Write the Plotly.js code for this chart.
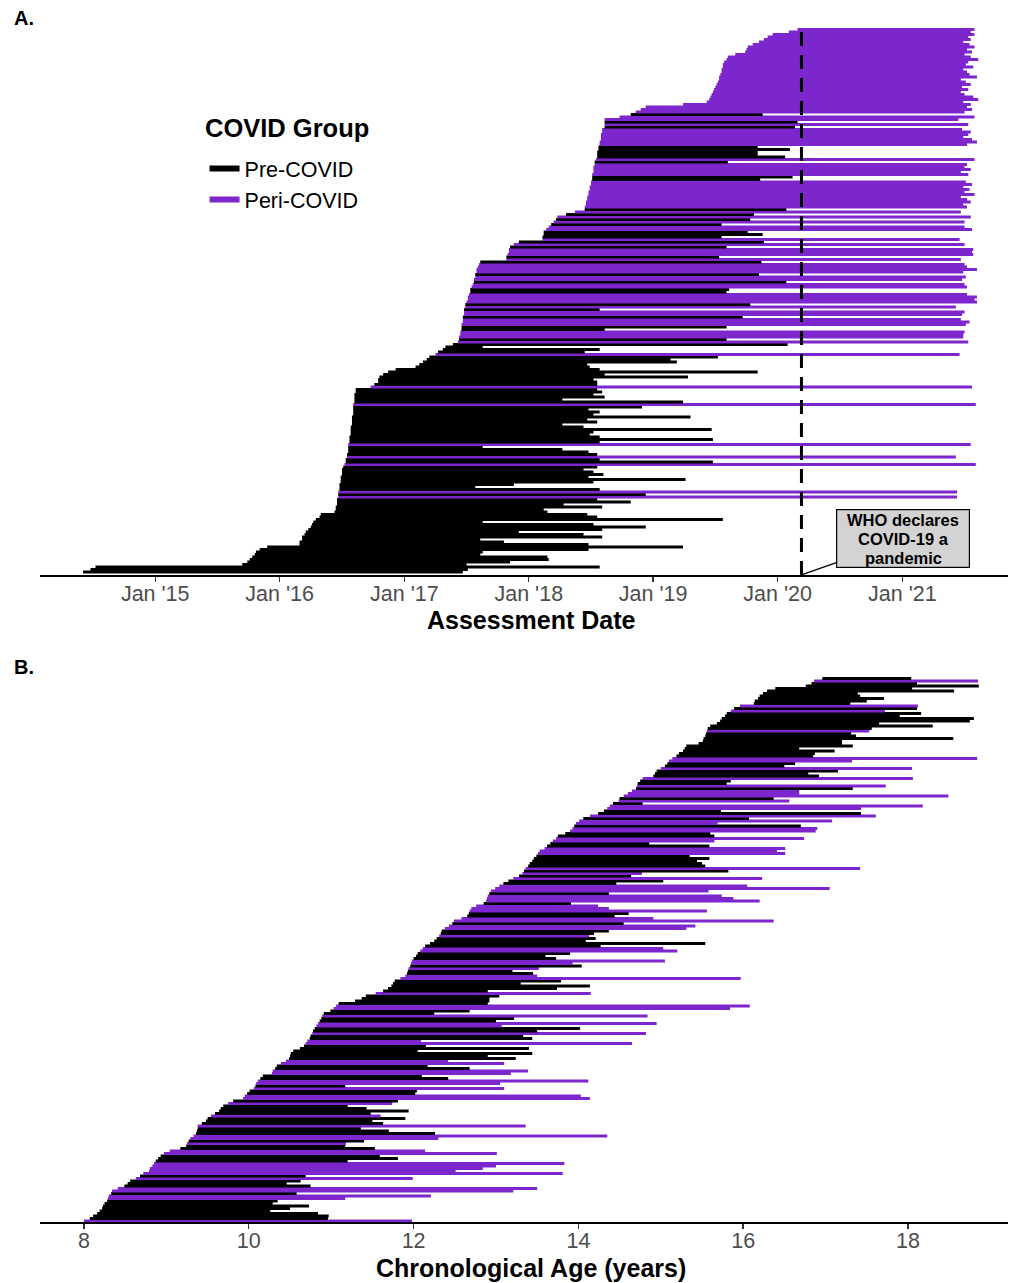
<!DOCTYPE html>
<html>
<head>
<meta charset="utf-8">
<script src="https://cdn.plot.ly/plotly-3.0.1.min.js"></script>
<style>html,body{margin:0;padding:0;background:#fff;}#chart{width:1011px;height:1283px;}</style>
</head>
<body>
<div id="chart"></div>
<script>
// ---------- DATA ----------
// Panel A: assessment dates (decimal years), one row per participant, sorted by baseline
const aStart = [
2014.42,2014.48,2014.52,2015.70,2015.74,2015.76,2015.78,2015.80,2015.81,2015.84,
2015.90,2016.16,2016.16,2016.18,2016.18,2016.20,2016.21,2016.23,2016.25,2016.26,
2016.27,2016.29,2016.32,2016.33,2016.44,2016.45,2016.45,2016.46,2016.46,2016.46,
2016.47,2016.47,2016.47,2016.48,2016.48,2016.48,2016.49,2016.49,2016.49,2016.50,
2016.50,2016.50,2016.51,2016.52,2016.53,2016.53,2016.54,2016.54,2016.55,2016.55,
2016.55,2016.55,2016.56,2016.56,2016.56,2016.57,2016.57,2016.57,2016.57,2016.58,
2016.58,2016.58,2016.58,2016.59,2016.59,2016.59,2016.59,2016.59,2016.60,2016.60,
2016.60,2016.60,2016.61,2016.61,2016.73,2016.76,2016.79,2016.79,2016.80,2016.83,
2016.87,2016.93,2017.09,2017.12,2017.15,2017.18,2017.20,2017.25,2017.27,2017.31,
2017.33,2017.39,2017.43,2017.44,2017.44,2017.45,2017.45,2017.46,2017.46,2017.46,
2017.47,2017.47,2017.47,2017.48,2017.48,2017.48,2017.49,2017.49,2017.50,2017.51,
2017.51,2017.52,2017.53,2017.53,2017.54,2017.55,2017.56,2017.56,2017.57,2017.57,
2017.58,2017.58,2017.59,2017.60,2017.61,2017.82,2017.82,2017.83,2017.84,2017.84,
2017.85,2017.88,2017.92,2018.11,2018.11,2018.12,2018.12,2018.14,2018.16,2018.18,
2018.20,2018.22,2018.23,2018.30,2018.37,2018.45,2018.45,2018.46,2018.46,2018.47,
2018.47,2018.48,2018.48,2018.49,2018.49,2018.50,2018.50,2018.51,2018.51,2018.51,
2018.52,2018.52,2018.52,2018.53,2018.53,2018.54,2018.55,2018.55,2018.55,2018.56,
2018.56,2018.57,2018.57,2018.58,2018.58,2018.58,2018.59,2018.59,2018.61,2018.61,
2018.61,2018.61,2018.73,2018.82,2018.86,2018.90,2018.94,2019.24,2019.43,2019.45,
2019.46,2019.47,2019.48,2019.49,2019.50,2019.51,2019.52,2019.53,2019.53,2019.54,
2019.55,2019.55,2019.56,2019.56,2019.57,2019.59,2019.60,2019.66,2019.74,2019.75,
2019.76,2019.80,2019.85,2019.89,2019.92,2019.96,2020.09,2020.16];
const aEnd = [
2017.47,2017.51,2018.57,2017.50,2017.85,2018.16,2018.15,2017.61,2017.63,2018.48,
2019.24,2018.48,2017.80,2017.61,2018.59,2018.44,2017.92,2018.59,2018.94,2018.52,
2017.63,2019.56,2018.55,2018.47,2018.15,2018.12,2018.59,2018.28,2018.82,2018.55,
2021.44,2018.94,2021.44,2018.57,2017.57,2017.88,2018.52,2019.26,2018.48,2018.60,
2018.52,2018.44,2018.55,2021.59,2019.48,2018.57,2021.43,2018.55,2018.48,2018.27,
2017.63,2021.55,2018.57,2019.48,2018.57,2018.49,2018.52,2019.47,2018.44,2018.27,
2018.55,2018.47,2019.30,2018.52,2018.57,2018.48,2018.91,2021.59,2019.24,2018.27,
2018.61,2018.52,2018.59,2018.55,2021.56,2018.55,2018.55,2018.52,2019.28,2018.61,
2019.84,2018.57,2018.49,2018.47,2019.19,2019.14,2019.52,2021.46,2018.45,2018.57,
2017.63,2020.08,2021.53,2019.59,2021.49,2021.49,2021.50,2018.61,2019.59,2021.51,
2021.54,2021.47,2019.72,2021.48,2021.50,2018.57,2021.43,2019.78,2021.60,2021.58,
2021.60,2021.52,2019.59,2019.61,2021.52,2021.50,2020.07,2021.48,2021.51,2019.85,
2021.49,2021.60,2021.52,2021.50,2019.87,2021.47,2019.53,2021.57,2021.56,2021.57,
2019.59,2021.50,2019.89,2021.46,2019.55,2019.88,2019.76,2021.56,2021.50,2019.55,
2021.50,2019.78,2021.55,2019.81,2021.47,2020.07,2021.52,2021.49,2021.55,2021.52,
2021.47,2021.58,2021.50,2021.54,2021.49,2021.56,2021.51,2019.86,2020.12,2021.53,
2021.47,2021.55,2021.50,2021.52,2019.60,2021.58,2020.06,2019.84,2019.84,2020.10,
2019.84,2021.52,2021.60,2021.56,2021.49,2021.53,2021.55,2021.48,2020.14,2021.53,
2020.16,2021.45,2021.58,2019.88,2021.50,2021.56,2021.52,2021.55,2021.49,2021.61,
2021.57,2021.50,2021.47,2021.53,2021.48,2021.55,2021.51,2021.47,2021.60,2021.54,
2021.52,2021.49,2021.57,2021.51,2021.53,2021.61,2021.55,2021.50,2021.56,2021.52,
2021.58,2021.54,2021.49,2021.55,2021.53,2021.58,2021.55,2021.58];
// 0 = Pre-COVID, 1 = Peri-COVID
const aGroup = [
0,0,0,0,0,0,0,0,0,0, 0,0,0,0,0,0,0,0,0,0, 0,0,0,0,0,0,0,0,0,0,
1,0,1,0,0,0,0,0,0,0, 0,0,0,1,0,0,1,0,0,0, 0,1,0,0,0,0,0,0,0,0,
0,0,0,0,0,0,0,1,0,0, 0,0,0,0,1,0,0,0,0,0, 0,0,0,0,0,0,0,1,0,0,
0,0,1,0,1,1,1,0,0,1, 1,1,0,1,1,0,1,0,1,1, 1,1,0,0,1,1,0,1,1,0,
1,1,1,1,0,1,0,1,1,1, 0,1,0,1,0,0,0,1,1,0, 1,0,1,0,1,0,1,1,1,1,
1,1,1,1,1,1,1,0,0,1, 1,1,1,1,0,1,0,0,0,0, 0,1,1,1,1,1,1,1,0,1,
0,1,1,0,1,1,1,1,1,1, 1,1,1,1,1,1,1,1,1,1, 1,1,1,1,1,1,1,1,1,1,
1,1,1,1,1,1,1,1];

// Panel B: chronological age (years) at first and last assessment
const bStart = [
8.00,8.07,8.11,8.16,8.19,8.22,8.23,8.25,8.28,8.29,
8.30,8.33,8.34,8.41,8.49,8.53,8.56,8.63,8.68,8.72,
8.79,8.80,8.83,8.85,8.87,8.90,8.93,8.97,9.04,9.17,
9.24,9.25,9.27,9.29,9.33,9.36,9.37,9.38,9.38,9.43,
9.48,9.50,9.54,9.59,9.64,9.66,9.69,9.75,9.81,9.93,
9.95,9.98,10.01,10.06,10.08,10.09,10.11,10.14,10.17,10.28,
10.29,10.32,10.34,10.39,10.45,10.49,10.50,10.51,10.54,10.62,
10.67,10.69,10.71,10.74,10.75,10.77,10.78,10.80,10.82,10.84,
10.86,10.88,10.89,10.91,10.99,11.03,11.06,11.09,11.29,11.37,
11.42,11.54,11.63,11.69,11.73,11.75,11.77,11.84,11.90,11.92,
11.93,11.94,11.96,11.97,11.98,12.00,12.03,12.05,12.08,12.11,
12.14,12.20,12.25,12.28,12.31,12.33,12.34,12.38,12.43,12.47,
12.49,12.58,12.65,12.67,12.68,12.70,12.76,12.85,12.88,12.89,
12.90,12.92,12.94,12.99,13.04,13.09,13.15,13.21,13.28,13.32,
13.34,13.36,13.39,13.41,13.44,13.46,13.49,13.51,13.53,13.59,
13.62,13.66,13.69,13.73,13.75,13.84,13.90,13.93,13.95,13.97,
14.01,14.06,14.14,14.24,14.31,14.35,14.38,14.42,14.49,14.50,
14.55,14.60,14.65,14.70,14.71,14.72,14.75,14.78,14.91,14.93,
14.95,15.00,15.05,15.08,15.10,15.14,15.19,15.22,15.27,15.29,
15.31,15.46,15.51,15.52,15.54,15.55,15.56,15.57,15.60,15.68,
15.72,15.74,15.78,15.80,15.85,15.89,15.96,16.13,16.14,16.18,
16.20,16.24,16.29,16.39,16.76,16.83,16.86,16.96];
const bEnd = [
11.98,10.96,10.97,10.84,10.26,10.50,10.73,10.29,10.35,11.17,
12.21,10.58,13.21,13.50,10.75,10.46,10.63,11.99,10.69,13.81,
12.51,12.84,13.00,13.83,11.20,11.81,11.59,13.01,12.14,11.53,
11.17,11.18,11.40,12.30,14.35,12.26,11.70,11.36,13.36,11.63,
11.50,11.90,11.60,11.48,11.94,11.43,11.20,11.74,11.81,14.14,
14.03,12.02,12.04,13.10,11.17,13.05,14.12,12.42,12.10,13.18,
13.39,12.68,12.17,13.10,12.42,13.24,12.90,13.44,12.05,13.40,
12.15,14.65,12.09,13.44,13.33,14.82,13.50,14.02,13.07,14.95,
13.00,13.22,14.84,12.25,12.68,15.84,16.08,12.90,12.92,12.92,
13.04,14.15,12.90,13.74,14.14,13.30,13.79,15.97,13.50,13.45,
13.20,13.52,14.04,13.93,15.05,13.73,13.60,13.90,15.20,15.03,
14.27,15.54,14.09,14.21,14.13,14.19,14.37,15.31,15.42,14.55,
16.37,14.91,14.44,14.61,15.56,14.37,14.24,13.91,16.20,15.88,
15.74,14.37,15.58,17.05,16.05,14.46,15.03,16.23,14.64,14.77,
15.82,17.42,15.54,15.50,15.44,15.59,15.35,16.51,16.41,16.51,
15.59,14.86,15.65,16.74,15.65,15.60,16.88,16.90,16.70,15.69,
17.08,16.07,17.61,17.43,15.73,17.43,18.18,14.78,16.56,16.37,
18.49,16.68,16.68,17.33,17.73,15.80,15.85,18.06,16.92,16.79,
17.15,18.05,16.50,16.63,17.32,18.84,16.85,16.87,17.11,16.68,
17.33,17.20,17.20,18.55,17.37,17.31,17.53,17.56,18.30,17.65,
18.75,18.80,17.90,18.16,17.72,18.11,18.12,17.30,17.50,17.71,
17.42,17.39,18.56,18.05,18.86,18.11,18.85,18.04];
const bGroup = [
1,0,0,0,0,0,0,0,0,1, 1,0,1,1,0,0,0,1,0,1, 1,1,1,1,0,0,0,1,1,0,
0,1,0,1,1,0,0,0,1,0, 0,0,1,0,0,0,0,1,0,1, 1,0,0,1,0,1,1,0,0,1,
1,0,0,1,1,0,0,0,0,0, 0,1,1,0,0,1,0,0,1,1, 0,0,1,0,0,1,1,0,0,0,
0,1,0,0,0,0,0,1,1,0, 0,1,0,1,1,0,0,0,1,1, 0,0,0,0,1,0,0,1,1,0,
1,1,0,0,1,1,1,0,1,1, 1,0,1,1,1,0,0,1,0,1, 0,1,0,0,0,0,0,1,1,1,
0,0,1,1,0,0,1,1,0,1, 1,0,1,0,0,1,1,0,1,0, 1,1,1,0,1,0,0,1,0,0,
0,1,0,0,1,1,0,0,0,0, 0,0,0,0,0,0,1,0,0,0, 0,0,0,0,1,0,1,0,0,0,
0,0,0,0,0,0,1,0];

const groupNames = ['Pre-COVID', 'Peri-COVID'];
const groupColors = ['#000000', '#7D26CD'];
const dateTickVals = ['2015-01-01','2016-01-01','2017-01-01','2018-01-01','2019-01-01','2020-01-01','2021-01-01'];
const dateTickText = ["Jan '15","Jan '16","Jan '17","Jan '18","Jan '19","Jan '20","Jan '21"];
const ageTickVals = [8, 10, 12, 14, 16, 18];
const whoDate = '2020-03-11';
const whoLines = ['WHO declares', 'COVID-19 a', 'pandemic'];

// ---------- HELPERS ----------
function yearToDate(v) {
  const yr = Math.floor(v);
  const t0 = Date.UTC(yr, 0, 1), t1 = Date.UTC(yr + 1, 0, 1);
  return new Date(t0 + (v - yr) * (t1 - t0)).toISOString().slice(0, 19).replace('T', ' ');
}
function buildTraces(starts, ends, groups, conv, xa, ya) {
  const runs = [];
  let cur = null;
  for (let i = 0; i < starts.length; i++) {
    const g = groups[i];
    if (!cur || cur.g !== g) { cur = { g: g, x: [], y: [] }; runs.push(cur); }
    cur.x.push(conv(starts[i]), conv(ends[i]), null);
    cur.y.push(i + 1, i + 1, null);
  }
  return runs.map(r => ({
    type: 'scatter', mode: 'lines', x: r.x, y: r.y, xaxis: xa, yaxis: ya,
    line: { color: groupColors[r.g], width: 3 }, showlegend: false, hoverinfo: 'skip'
  }));
}

const FONT = 'Liberation Sans, Arial, Helvetica, sans-serif';
const traces = []
  .concat(buildTraces(aStart, aEnd, aGroup, yearToDate, 'x', 'y'))
  .concat(buildTraces(bStart, bEnd, bGroup, v => v, 'x2', 'y2'));
// legend entries
groupNames.forEach((n, k) => traces.push({
  type: 'scatter', mode: 'lines', x: [null], y: [null], xaxis: 'x', yaxis: 'y',
  name: n, line: { color: groupColors[k], width: 6 }, showlegend: true, hoverinfo: 'skip'
}));

const nA = aStart.length, nB = bStart.length;
const axisCommon = {
  showline: true, linecolor: '#000', linewidth: 1.6, ticks: 'outside', ticklen: 5,
  tickwidth: 1.4, tickcolor: '#333', tickfont: { size: 21.5, color: '#4D4D4D', family: FONT },
  ticklabelstandoff: -6,
  showgrid: false, zeroline: false, fixedrange: true
};

const annotations = [
  { xref: 'paper', yref: 'paper', x: -0.029, y: 1.0067, xanchor: 'left', yanchor: 'middle',
    text: '<b>A.</b>', showarrow: false, font: { size: 20, color: '#000', family: FONT } },
  { xref: 'paper', yref: 'paper', x: -0.029, y: 0.464, xanchor: 'left', yanchor: 'middle',
    text: '<b>B.</b>', showarrow: false, font: { size: 20, color: '#000', family: FONT } },
  // axis titles
  { xref: 'paper', yref: 'paper', x: 0.5077, y: 0.5033, xanchor: 'center', yanchor: 'middle',
    text: '<b>Assessment Date</b>', showarrow: false, font: { size: 25, color: '#000', family: FONT } },
  { xref: 'paper', yref: 'paper', x: 0.5077, y: -0.0385, xanchor: 'center', yanchor: 'middle',
    text: '<b>Chronological Age (years)</b>', showarrow: false, font: { size: 25, color: '#000', family: FONT } },
  // legend title
  { xref: 'paper', yref: 'paper', x: 0.1684, y: 0.9147, xanchor: 'left', yanchor: 'middle',
    text: '<b>COVID Group</b>', showarrow: false, font: { size: 25.5, color: '#000', family: FONT } },
  // WHO label box with leader line
  { xref: 'x', yref: 'y domain', x: whoDate, y: 0, text: ' ', showarrow: true, arrowhead: 0,
    arrowwidth: 1.3, arrowcolor: '#000', ax: 102, ay: -36, width: 130, height: 55,
    bgcolor: '#D3D3D3', bordercolor: '#000', borderwidth: 1.2, borderpad: 1,
    font: { size: 16, family: FONT } }
];
const lineShift = [55, 36, 17];
whoLines.forEach((t, k) => annotations.push({
  xref: 'x', yref: 'y domain', x: whoDate, y: 0, xshift: 102, yshift: lineShift[k],
  xanchor: 'center', yanchor: 'middle',
  text: '<b>' + t + '</b>', showarrow: false, font: { size: 16.5, color: '#000', family: FONT }
}));

const layout = {
  width: 1011, height: 1283,
  margin: { l: 40, r: 3, t: 26, b: 61 },
  paper_bgcolor: '#fff', plot_bgcolor: '#fff',
  font: { family: FONT, color: '#000' },
  showlegend: true,
  xaxis: Object.assign({}, axisCommon, {
    type: 'date', anchor: 'y', domain: [0, 1], range: ['2014-01-28', '2021-11-07'],
    tickmode: 'array', tickvals: dateTickVals, ticktext: dateTickText
  }),
  yaxis: { domain: [0.541, 1], range: [-0.2, nA + 1.4], visible: false, showgrid: false, zeroline: false, fixedrange: true },
  xaxis2: Object.assign({}, axisCommon, {
    anchor: 'y2', domain: [0, 1], range: [7.466, 19.214], tickmode: 'array', tickvals: ageTickVals
  }),
  yaxis2: { domain: [0, 0.4574], range: [0.6, nB + 1.4], visible: false, showgrid: false, zeroline: false, fixedrange: true },
  legend: {
    x: 0.170, xanchor: 'left', y: 0.898, yanchor: 'top', bgcolor: 'rgba(0,0,0,0)',
    font: { size: 21.5, color: '#000', family: FONT },
    traceorder: 'normal'
  },
  shapes: [{
    type: 'line', xref: 'x', yref: 'y domain', x0: whoDate, x1: whoDate, y0: 0, y1: 1,
    line: { color: '#000', width: 3, dash: '14px,9px' }
  }],
  annotations: annotations
};

Plotly.newPlot('chart', traces, layout, { displayModeBar: false, staticPlot: true });
</script>
</body>
</html>
